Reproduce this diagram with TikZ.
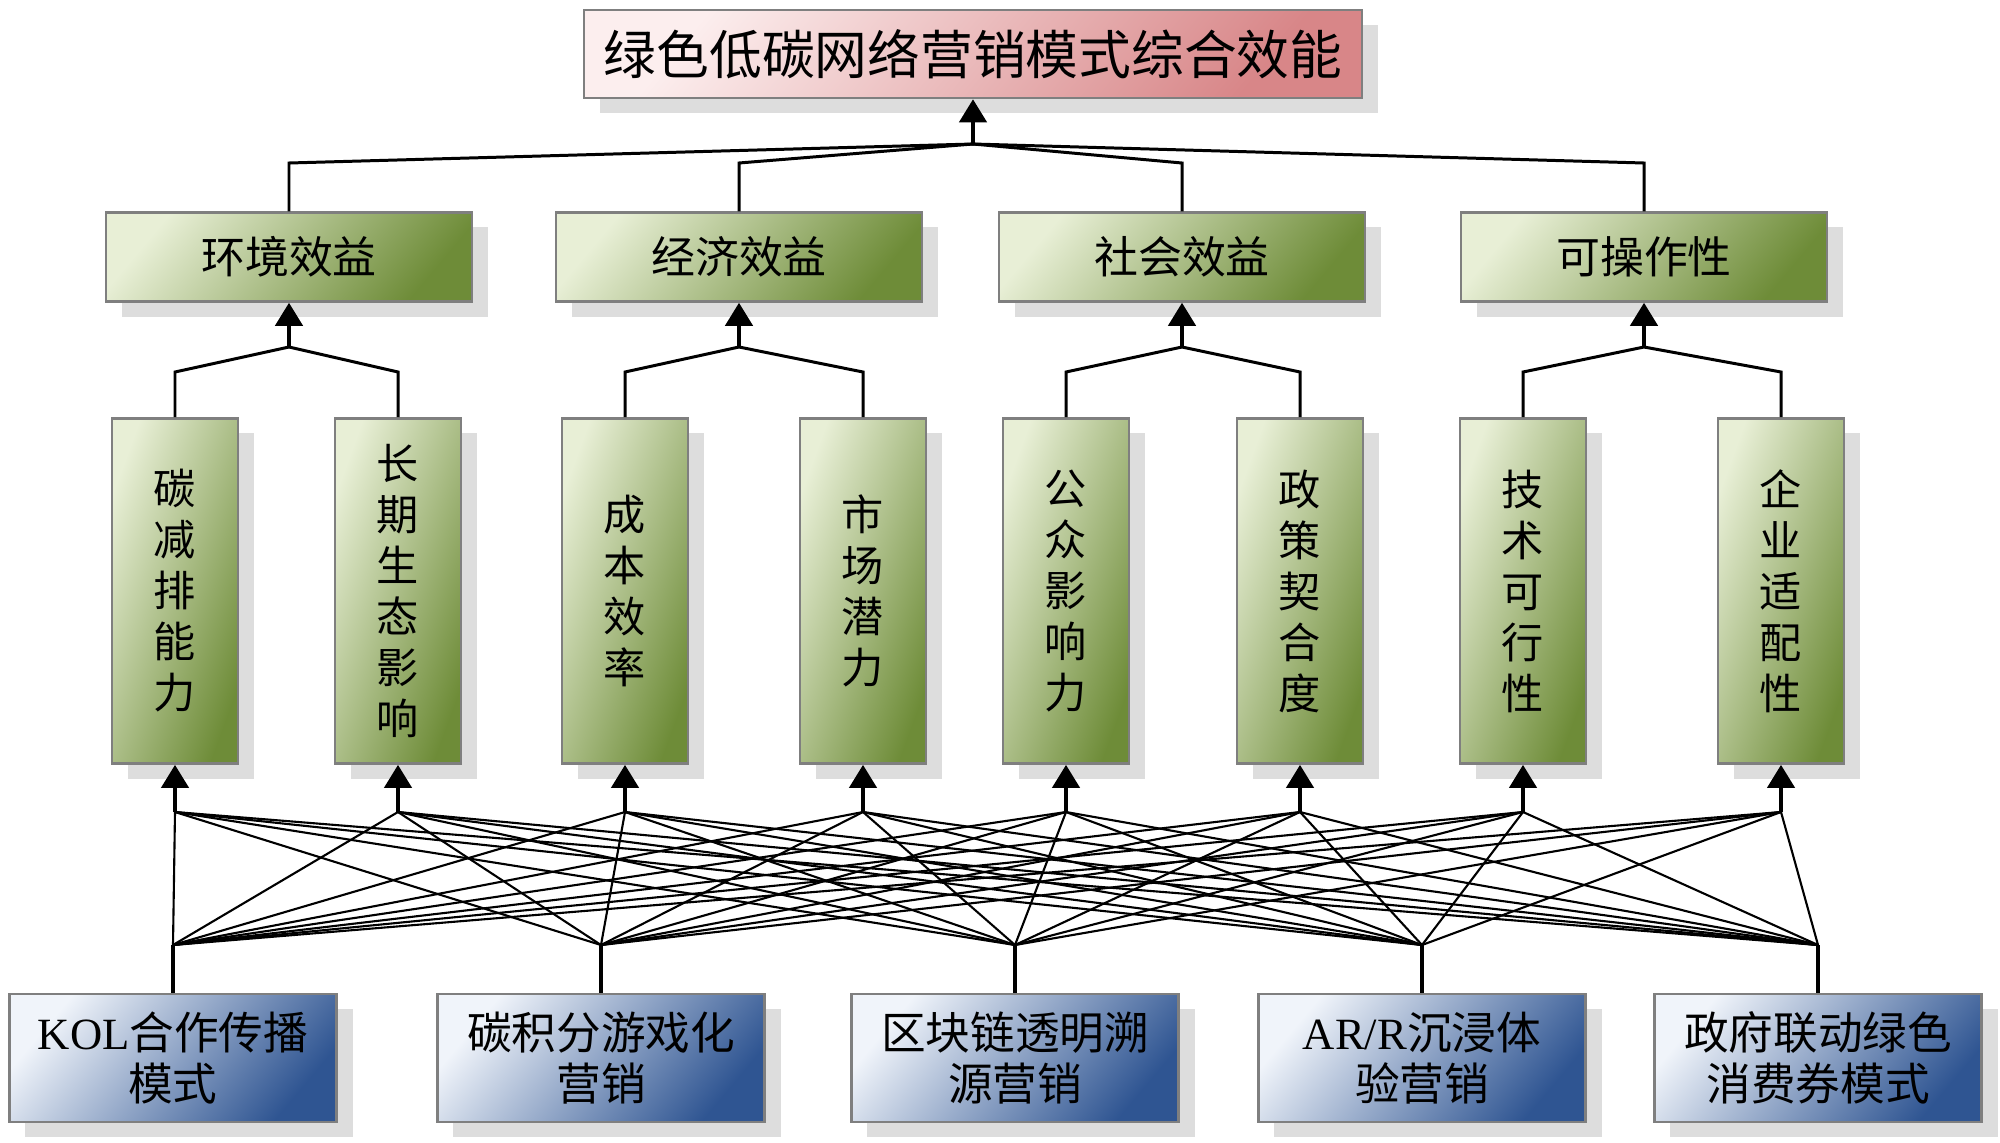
\documentclass[tikz,border=0pt]{standalone}
\usepackage{fontspec}
\setmainfont{Liberation Serif}
\newfontfamily\cjk{Noto Sans CJK SC}
\usepackage{tikz}
\usetikzlibrary{arrows.meta,shadows}
\definecolor{goalLight}{HTML}{FCEEEE}
\definecolor{goalDark}{HTML}{D88688}
\definecolor{critLight}{HTML}{E8EFD6}
\definecolor{critDark}{HTML}{6E8C38}
\definecolor{altLight}{HTML}{F0F4FA}
\definecolor{altDark}{HTML}{2F5592}
\definecolor{frame}{HTML}{7F7F7F}
\definecolor{shade}{HTML}{DDDDDD}

\tikzset{
  box/.style={draw=frame, line width=0.7pt, inner sep=0pt, align=center,
    drop shadow={shadow xshift=0.16cm, shadow yshift=-0.15cm, fill=shade, opacity=1}},
  goalbox/.style={box, top color=goalLight, bottom color=goalDark, shading angle=50,
    minimum width=7.78cm, minimum height=0.88cm, font=\cjk\fontsize{15}{18}\selectfont},
  critbox/.style={box, top color=critLight, bottom color=critDark, shading angle=50,
    minimum width=3.66cm, minimum height=0.89cm, font=\cjk\fontsize{12.5}{15}\selectfont},
  indbox/.style={box, top color=critLight, bottom color=critDark, shading angle=70,
    minimum width=1.26cm, minimum height=3.45cm, font=\cjk\fontsize{12}{14.5}\selectfont},
  altbox/.style={box, top color=altLight, bottom color=altDark, shading angle=50,
    minimum width=3.27cm, minimum height=1.28cm, font=\cjk\fontsize{12.7}{14.6}\selectfont},
  link/.style={draw=black, line width=0.85pt},
  stem/.style={draw=black, line width=1.2pt, -{Triangle[width=0.27cm,length=0.23cm]}},
  fan/.style={draw=black, line width=0.6pt}
}

\begin{document}
\begin{tikzpicture}[x=0.01cm, y=-0.01cm]
  \useasboundingbox (0,0) rectangle (2000,1142);

  % goal
  \node[goalbox] (goal) at (973,54) {绿色低碳网络营销模式综合效能};
  \coordinate (jgoal) at (973,144);

  % criteria
  \foreach \i/\x/\txt in {1/289/环境效益, 2/739/经济效益, 3/1182/社会效益, 4/1644/可操作性}{
    \node[critbox] (crit\i) at (\x,257) {\txt};
    \coordinate (bc\i) at (\x,163);
    \coordinate (jc\i) at (\x,347);
    \draw[link] (crit\i.north) -- (bc\i) -- (jgoal);
    \draw[stem] (jc\i) -- (crit\i.south);
  }
  \draw[stem] (jgoal) -- (goal.south);

  % indicators
  \foreach \k/\x/\g/\txt in {1/175/1/{碳\\减\\排\\能\\力}, 2/398/1/{长\\期\\生\\态\\影\\响},
      3/625/2/{成\\本\\效\\率}, 4/863/2/{市\\场\\潜\\力},
      5/1066/3/{公\\众\\影\\响\\力}, 6/1300/3/{政\\策\\契\\合\\度},
      7/1523/4/{技\\术\\可\\行\\性}, 8/1781/4/{企\\业\\适\\配\\性}}{
    \node[indbox] (ind\k) at (\x,591) {\txt};
    \coordinate (bi\k) at (\x,372);
    \coordinate (ji\k) at (\x,812);
    \draw[link] (ind\k.north) -- (bi\k) -- (jc\g);
    \draw[stem] (ji\k) -- (ind\k.south);
  }

  % alternatives
  \foreach \a/\x/\txt in {1/173/{{\rmfamily KOL}合作传播\\模式}, 2/601/{碳积分游戏化\\营销},
      3/1015/{区块链透明溯\\源营销}, 4/1422/{{\rmfamily AR/R}沉浸体\\验营销},
      5/1818/{政府联动绿色\\消费券模式}}{
    \node[altbox] (alt\a) at (\x,1058) {\txt};
    \coordinate (ja\a) at (\x,945);
    \draw[line width=1.2pt] (alt\a.north) -- (ja\a);
  }

  % every alternative feeds every indicator
  \foreach \a in {1,...,5}
    \foreach \k in {1,...,8}
      \draw[fan] (ja\a) -- (ji\k);
\end{tikzpicture}
\end{document}
